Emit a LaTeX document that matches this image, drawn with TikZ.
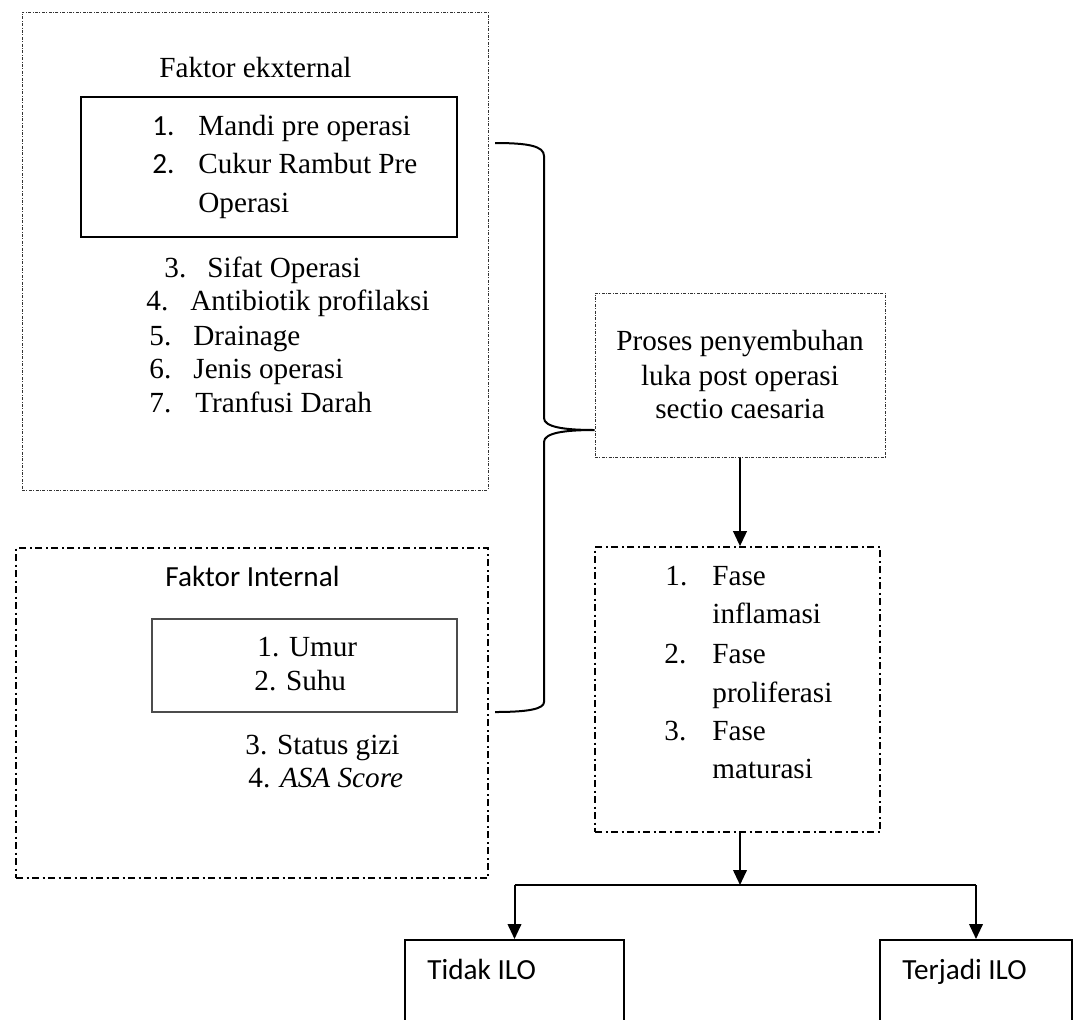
\documentclass[tikz,border=0pt]{standalone}
\usepackage{fontspec}
\setmainfont{Liberation Serif}
\newfontfamily\calibri{Carlito}
\usetikzlibrary{fit,arrows.meta}

\tikzset{
  finebox/.style={draw=black!80, line width=0.5pt, dash pattern=on 1.5pt off 0.7pt on 0.5pt off 0.7pt, inner sep=0pt},
  dashdotbox/.style={draw, line width=0.85pt, dash pattern=on 3.5pt off 1.75pt on 1pt off 1.75pt, inner sep=0pt},
  solidbox/.style={draw, line width=1pt, inner sep=0pt},
  thinbox/.style={draw=black!70, line width=0.6pt, inner sep=0pt},
  txt/.style={anchor=base west, inner sep=0pt},
  arr/.style={line width=1pt, -{Triangle[length=7.5pt,width=6.8pt]}},
  link/.style={line width=1pt},
}

\begin{document}
\begin{tikzpicture}[x=0.5pt, y=-0.5pt, font=\fontsize{14.6}{17}\selectfont]
      \useasboundingbox (0,0) rectangle (1081,1019);

      % faktor eksternal
      \node[finebox, fit={(22,12) (488,490)}] (ext) {};
      \node[solidbox, fit={(81,97) (457,237)}] (extin) {};
      \node[txt] (exttitle) at (159,77) {Faktor ekxternal};

      \node[txt] (n1) at (152,135) {\calibri 1.};
      \node[txt] (e1) at (198,135) {Mandi pre operasi};
      \node[txt] (n2) at (152,173) {\calibri 2.};
      \node[txt] (e2) at (198,173) {Cukur Rambut Pre};
      \node[txt] (e2b) at (198,212) {Operasi};

      \node[txt] (n3) at (164,277) {3.};
      \node[txt] (e3) at (207,277) {Sifat Operasi};
      \node[txt] (n4) at (146,310) {4.};
      \node[txt] (e4) at (190,310) {Antibiotik profilaksi};
      \node[txt] (n5) at (149,345) {5.};
      \node[txt] (e5) at (193,345) {Drainage};
      \node[txt] (n6) at (149,378) {6.};
      \node[txt] (e6) at (193,378) {Jenis operasi};
      \node[txt] (n7) at (149,412) {7.};
      \node[txt] (e7) at (195,412) {Tranfusi Darah};

      % faktor internal
      \node[dashdotbox, fit={(16,548) (488,878)}] (int) {};
      \node[thinbox, fit={(152,619) (457,712)}] (intin) {};
      \node[txt] (inttitle) at (165,586) {\calibri Faktor Internal};
      \node[txt] (i1) at (257,656) {1. Umur};
      \node[txt] (i2) at (254,690) {2. Suhu};
      \node[txt] (i3) at (245,754) {3. Status gizi};
      \node[txt] (i4) at (248,787) {4. \textit{ASA Score}};

      % proses penyembuhan
      \node[finebox, minimum width=145pt, minimum height=82pt, align=center] (proses) at (740,375)
        {Proses penyembuhan\\luka post operasi\\sectio caesaria};

      % fase
      \node[dashdotbox, fit={(595,547) (880,832)}] (fase) {};
      \node[txt] (f1) at (665,585) {1.};
      \node[txt] (f1a) at (712,585) {Fase};
      \node[txt] (f1b) at (712,623) {inflamasi};
      \node[txt] (f2) at (664,663) {2.};
      \node[txt] (f2a) at (712,663) {Fase};
      \node[txt] (f2b) at (712,702) {proliferasi};
      \node[txt] (f3) at (664,740) {3.};
      \node[txt] (f3a) at (712,740) {Fase};
      \node[txt] (f3b) at (712,778) {maturasi};

      % hasil
      \node[solidbox, fit={(405,940) (624,1070)}] (tidak) {};
      \node[txt] at (427,979) {\calibri Tidak ILO};
      \node[solidbox, fit={(880,940) (1072,1070)}] (terjadi) {};
      \node[txt] at (902,979) {\calibri Terjadi ILO};

      % kurung kurawal
      \coordinate (btop) at (495,143);
      \coordinate (bbot) at (495,712);
      \coordinate (btip) at (proses.west |- 0,430);
      \draw[link] (btop) .. controls (528,143) and (544,146) .. (544,156) -- (544,418)
        .. controls (544,427) and (564,430) .. (btip)
        .. controls (564,430) and (544,433) .. (544,442) -- (544,702)
        .. controls (544,709) and (528,712) .. (bbot);

      \draw[arr] (proses.south) -- (proses.south |- fase.north);

      \coordinate (split) at (proses.south |- 0,885);
      \draw[arr] (proses.south |- fase.south) -- (split);
      \draw[link] (tidak.north |- split) -- (terjadi.north |- split);
      \draw[arr] (tidak.north |- split) -- (tidak.north);
      \draw[arr] (terjadi.north |- split) -- (terjadi.north);
\end{tikzpicture}
\end{document}
